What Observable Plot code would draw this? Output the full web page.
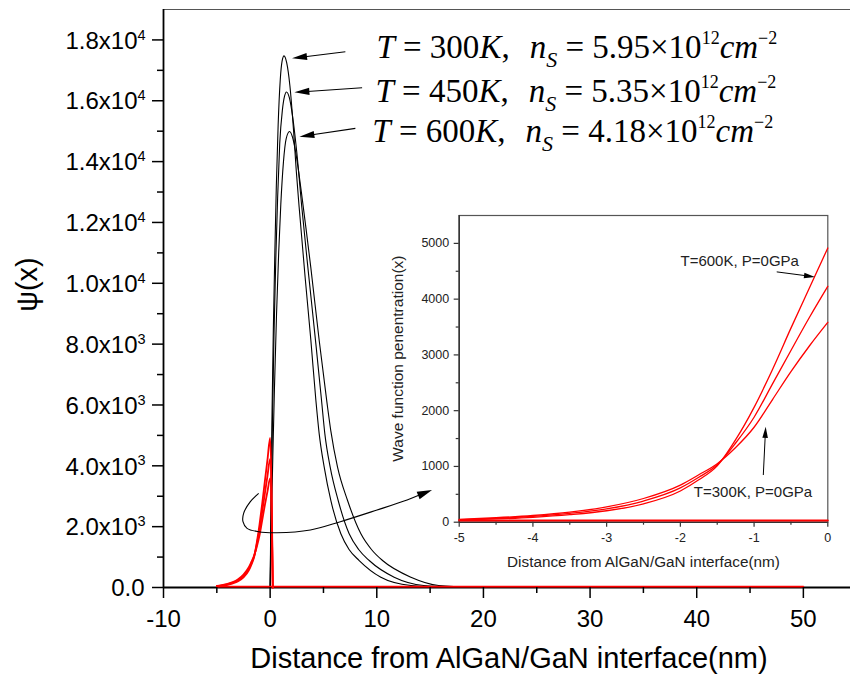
<!DOCTYPE html>
<html><head><meta charset="utf-8">
<script src="https://cdn.jsdelivr.net/npm/d3@7"></script>
<script src="https://cdn.jsdelivr.net/npm/@observablehq/plot@0.6"></script>
<style>
html,body{margin:0;padding:0;background:#fff;}
#wrap{position:relative;width:850px;height:681px;overflow:hidden;background:#fff;}
#wrap svg{position:absolute;overflow:visible;}
</style></head><body><div id="wrap"></div>
<script>
// ---------- main chart data (Distance nm, psi) ----------
const x300 = [0,0.08,0.18,0.3,0.44,0.58,0.75,0.95,1.12,1.3,1.55,1.85,2.2,2.45,2.72,3.28,3.82,4.29,4.6,5.07,5.69,6.63,7.4,8.35,10.38,13.2,16,19,50];
const y300 = [0,2900,5800,8500,11000,13200,15200,16700,17300,17475,17250,16500,15000,13700,12500,10200,8119,6147,5052,3955,2860,1765,1250,887,339,66,12,0,0];
const x450 = [0,0.1,0.22,0.36,0.53,0.7,0.9,1.15,1.35,1.53,1.8,2.1,2.5,2.97,3.6,4.29,4.82,5.13,5.63,6.38,7.41,8.3,9.29,11.63,14.4,17.5,21,50];
const y450 = [0,2800,5500,8300,10800,12800,14600,15700,16150,16290,16100,15500,14300,12500,10311,8000,6147,5052,3955,2860,1765,1250,887,339,66,12,0,0];
const x600 = [0,0.12,0.25,0.4,0.6,0.8,1.0,1.25,1.5,1.82,2.1,2.4,2.7,3.0,3.4,3.82,4.6,5.32,5.69,6.32,7.26,8.51,9.5,10.54,13.2,15.8,19,23,50];
const y600 = [0,2200,4300,6500,9000,11000,12600,14000,14750,14990,14800,14300,13600,12800,11700,10500,8119,6100,5150,3955,2860,1765,1250,887,339,66,12,0,0];

// ---------- penetration into barrier (inset data, also red in main) ----------
const penX   = [-5,-4.5,-4,-3.5,-3,-2.5,-2,-1.75,-1.5,-1.25,-1,-0.75,-0.5,-0.25,0];
const pen600 = [38,58,88,135,205,330,560,760,1010,1480,2060,2740,3480,4200,4917];
const pen450 = [45,68,103,158,240,380,615,805,1030,1420,1882,2480,3080,3670,4229];
const pen300 = [52,80,120,180,275,425,665,850,1050,1340,1703,2200,2700,3160,3584];
const dropX = [0.25];
const dropY = [0];
const flatMainX = [-5, 50];
const flatInsetX = [-5, 0];
const flatY = [30, 30];

// ---------- axes ----------
const xMajor = [-10,0,10,20,30,40,50];
const xMinor = [-5,5,15,25,35,45];
const yMajor = [0,2000,4000,6000,8000,10000,12000,14000,16000,18000];
const yMinor = [1000,3000,5000,7000,9000,11000,13000,15000,17000];
const yMantissa = ["0.0","2.0x10","4.0x10","6.0x10","8.0x10","1.0x10","1.2x10","1.4x10","1.6x10","1.8x10"];
const yExponent = ["","3","3","3","3","4","4","4","4","4"];
const xLabel = "Distance from AlGaN/GaN interface(nm)";
const yLabel = "\u03c8(x)";

const insetXMajor = [-5,-4,-3,-2,-1,0];
const insetXMinor = [-4.5,-3.5,-2.5,-1.5,-0.5];
const insetYMajor = [0,1000,2000,3000,4000,5000];
const insetYMinor = [500,1500,2500,3500,4500];
const insetYLabel = "Wave function penentration(x)";

// ---------- annotations ----------
const annT  = ["300","450","600"];
const annNs = ["5.95","5.35","4.18"];
const annX  = [10.01, 9.92, 9.63];
const annY  = [17378, 15952, 14637];
const arrX1 = [7.10, 8.67, 8.04], arrY1 = [17596, 16412, 15077];
const arrX2 = [2.10, 2.32, 2.79], arrY2 = [17379, 16261, 14802];
const curlX = [-1.03,-1.81,-2.44,-2.50,-2.12,-1.03,0.69,3.82,6.63,10.07,12.89,15.23];
const curlY = [3080,2804,2423,2146,1929,1818,1785,1874,2146,2531,2860,3188];

const insetTxt = ["T=600K, P=0GPa","T=300K, P=0GPa"];
const insetTxtX = [-1.998,-1.818];
const insetTxtY = [4686, 547];
const iArrA = {x:[-0.686,-0.167], y:[4480,4390]};
const iArrB = {x:[-0.868,-0.836], y:[837,1702]};

const serif = "'Liberation Serif','Times New Roman',serif";
const sans = "'Liberation Sans',Arial,Helvetica,sans-serif";

function arrowMark(xs, ys, {curve=false, head=15, half=3.6, width=1.1, color="black"} = {}) {
  return (index, scales) => {
    const pts = xs.map((x,i) => [scales.x(x), scales.y(ys[i])]);
    const n = pts.length;
    const [ex, ey] = pts[n-1];
    const [px, py] = pts[n-2];
    const a = Math.atan2(ey-py, ex-px);
    const bx = ex - head*Math.cos(a), by = ey - head*Math.sin(a);
    const body = pts.slice(0, n-1).concat([[bx + 2*Math.cos(a), by + 2*Math.sin(a)]]);
    const g = d3.create("svg:g");
    g.append("path")
      .attr("d", d3.line().curve(curve ? d3.curveCatmullRom : d3.curveLinear)(body))
      .attr("fill","none").attr("stroke",color).attr("stroke-width",width);
    g.append("path")
      .attr("d", `M${ex},${ey}L${bx - half*Math.sin(a)},${by + half*Math.cos(a)}L${bx + half*Math.sin(a)},${by - half*Math.cos(a)}Z`)
      .attr("fill", color);
    return g.node();
  };
}

function formulaMark(i) {
  return (index, scales) => {
    const t = d3.create("svg:text")
      .attr("x", scales.x(annX[i])).attr("y", scales.y(annY[i]))
      .attr("text-anchor", "start")
      .attr("font-family", serif).attr("font-size", 33).attr("fill", "black")
      .style("white-space", "pre");
    t.append("tspan").attr("font-style","italic").text("T");
    t.append("tspan").text(" = " + annT[i]);
    t.append("tspan").attr("font-style","italic").text("K");
    t.append("tspan").text(",");
    t.append("tspan").attr("dx", 20).attr("font-style","italic").text("n");
    t.append("tspan").attr("font-style","italic").attr("font-size",22).attr("dy",9).text("S");
    t.append("tspan").attr("dy",-9).text(" = " + annNs[i] + "\u00d710");
    t.append("tspan").attr("font-size",18).attr("dy",-14).text("12");
    t.append("tspan").attr("dy",14).attr("font-style","italic").text("cm");
    t.append("tspan").attr("font-size",18).attr("dy",-14).text("\u22122");
    return t.node();
  };
}

const blackCurve = {stroke: "black", strokeWidth: 1.1, curve: "monotone-x"};
const redMain = {stroke: "#ff0000", strokeWidth: 1.8, curve: "monotone-x"};
const yNonZero = yMajor.slice(1);

const main = Plot.plot({
  width: 850, height: 681,
  marginLeft: 163, marginRight: 0, marginTop: 9, marginBottom: 94,
  x: {domain: [-10, 54.42]},
  y: {domain: [0, 19000]},
  style: {fontFamily: sans, background: "transparent", color: "black"},
  marks: [
    Plot.ruleY([19000], {stroke: "#555", strokeWidth: 1.2}),
    Plot.line(x300, {x: x300, y: y300, ...blackCurve}),
    Plot.line(x450, {x: x450, y: y450, ...blackCurve}),
    Plot.line(x600, {x: x600, y: y600, ...blackCurve}),
    Plot.ruleX([-10], {stroke: "black", strokeWidth: 1.8}),
    Plot.ruleY([0], {stroke: "black", strokeWidth: 1.8}),
    Plot.line(flatMainX, {x: flatMainX, y: flatY, stroke: "#ff0000", strokeWidth: 1.8}),
    Plot.line(penX.concat(dropX), {x: penX.concat(dropX), y: pen600.concat(dropY), ...redMain}),
    Plot.line(penX.concat(dropX), {x: penX.concat(dropX), y: pen450.concat(dropY), ...redMain}),
    Plot.line(penX.concat(dropX), {x: penX.concat(dropX), y: pen300.concat(dropY), ...redMain}),
    Plot.axisX(xMajor, {tickSize: 11, tickPadding: 11, fontSize: 24, tickFormat: d => String(d), label: null, stroke: "black", strokeWidth: 1.5, fill: "black"}),
    Plot.axisX(xMinor, {tickSize: 6, tickFormat: () => "", label: null, stroke: "black", strokeWidth: 1.5}),
    Plot.axisY(yMajor, {tickSize: 11, tickFormat: () => "", label: null, stroke: "black", strokeWidth: 1.5}),
    Plot.axisY(yMinor, {tickSize: 6, tickFormat: () => "", label: null, stroke: "black", strokeWidth: 1.5}),
    Plot.text(yNonZero, {x: -10, y: yNonZero, text: (d,i) => yMantissa[i+1], textAnchor: "end", dx: -26, dy: 1, fontSize: 24, fill: "black"}),
    Plot.text([yMajor[0]], {x: -10, y: [yMajor[0]], text: () => yMantissa[0], textAnchor: "end", dx: -19, dy: 1, fontSize: 24, fill: "black"}),
    Plot.text(yNonZero, {x: -10, y: yNonZero, text: (d,i) => yExponent[i+1], textAnchor: "start", dx: -26, dy: -5, fontSize: 14.5, fill: "black"}),
    Plot.text([xLabel], {frameAnchor: "bottom", text: d => d, dy: 80, dx: 2, fontSize: 29, fill: "black"}),
    Plot.text([yLabel], {x: [-10], y: [9960], text: d => d, dx: -135.5, rotate: -90, fontSize: 29, fill: "black"}),
    arrowMark([arrX1[0], arrX2[0]], [arrY1[0], arrY2[0]]),
    arrowMark([arrX1[1], arrX2[1]], [arrY1[1], arrY2[1]]),
    arrowMark([arrX1[2], arrX2[2]], [arrY1[2], arrY2[2]]),
    arrowMark(curlX, curlY, {curve: true, head: 15, half: 4, width: 1.1}),
    formulaMark(0), formulaMark(1), formulaMark(2)
  ]
});

const redInset = {stroke: "#ff0000", strokeWidth: 1.3, curve: "monotone-x"};
const inset = Plot.plot({
  width: 470, height: 380,
  marginLeft: 78.7, marginRight: 22.7, marginTop: 15, marginBottom: 58.3,
  x: {domain: [-5, 0]},
  y: {domain: [0, 5500]},
  style: {fontFamily: sans, background: "transparent", color: "black"},
  marks: [
    Plot.frame({stroke: "#555", strokeWidth: 1.2}),
    Plot.ruleX([-5], {stroke: "#333", strokeWidth: 1.5}),
    Plot.ruleY([0], {stroke: "#333", strokeWidth: 1.5}),
    Plot.line(penX, {x: penX, y: pen600, ...redInset}),
    Plot.line(penX, {x: penX, y: pen450, ...redInset}),
    Plot.line(penX, {x: penX, y: pen300, ...redInset}),
    Plot.line(flatInsetX, {x: flatInsetX, y: flatY, stroke: "#ff0000", strokeWidth: 2}),
    Plot.axisY(insetYMajor, {tickSize: 5, tickPadding: 5, fontSize: 12.5, tickFormat: d => String(d), label: null, stroke: "#333", strokeWidth: 1.2, fill: "#222"}),
    Plot.axisY(insetYMinor, {tickSize: 3, tickFormat: () => "", label: null, stroke: "#333", strokeWidth: 1.2}),
    Plot.axisX(insetXMajor, {tickSize: 5, tickPadding: 6, fontSize: 12.5, tickFormat: d => String(d), label: null, stroke: "#333", strokeWidth: 1.2, fill: "#222"}),
    Plot.axisX(insetXMinor, {tickSize: 3, tickFormat: () => "", label: null, stroke: "#333", strokeWidth: 1.2}),
    Plot.text([xLabel], {frameAnchor: "bottom", text: d => d, dy: 45, fontSize: 15.3, fill: "#222"}),
    Plot.text([insetYLabel], {x: [-5], y: [2933], text: d => d, dx: -60.7, rotate: -90, fontSize: 15.5, fill: "#222"}),
    Plot.text(insetTxt, {x: insetTxtX, y: insetTxtY, text: d => d, textAnchor: "start", fontSize: 15, fill: "#222"}),
    arrowMark(iArrA.x, iArrA.y, {head: 11, half: 2.8, width: 1}),
    arrowMark(iArrB.x, iArrB.y, {head: 11, half: 2.8, width: 1})
  ]
});
const wrap = document.getElementById("wrap");
main.style.left = "0px"; main.style.top = "0px";
inset.style.left = "380px"; inset.style.top = "200px";
wrap.appendChild(main);
wrap.appendChild(inset);
</script>
</body></html>
